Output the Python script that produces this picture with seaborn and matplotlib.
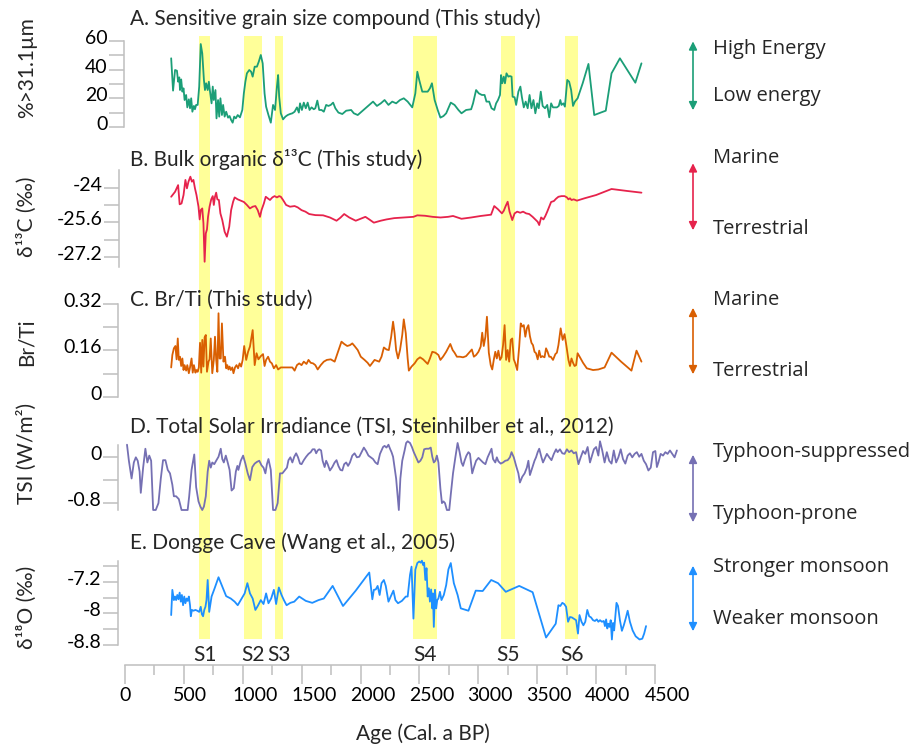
import numpy as np
import pandas as pd
import matplotlib
matplotlib.use("Agg")
import matplotlib.pyplot as plt
import seaborn as sns
from matplotlib.transforms import ScaledTranslation, blended_transform_factory
from matplotlib.patches import FancyArrowPatch

# ---------------- data ----------------
A_age = [392,408,425,441,451,461,467,477,487,497,
         506,519,529,542,552,562,572,585,594,604,
         617,630,643,656,670,679,689,702,712,722,
         735,745,754,768,777,790,800,810,823,833,
         846,859,875,888,901,914,927,941,957,976,
         996,1009,1022,1035,1055,1071,1084,1101,1120,1136,
         1153,1169,1185,1198,1218,1238,1257,1274,1290,1300,
         1309,1323,1342,1362,1381,1401,1421,1440,1460,1476,
         1486,1502,1518,1535,1551,1567,1584,1603,1616,1633,
         1649,1669,1688,1708,1727,1747,1767,1786,1812,1845,
         1878,1920,1943,1976,2025,2074,2106,2139,2172,2204,
         2237,2269,2302,2335,2367,2400,2439,2465,2482,2498,
         2524,2547,2570,2589,2606,2629,2655,2678,2704,2727,
         2766,2798,2831,2857,2896,2939,2955,2981,3004,3030,
         3053,3069,3092,3112,3135,3151,3167,3184,3193,3203,
         3216,3226,3239,3255,3268,3282,3291,3308,3321,3340,
         3357,3370,3386,3402,3419,3435,3451,3468,3484,3500,
         3513,3530,3546,3566,3585,3602,3618,3634,3650,3667,
         3683,3696,3706,3722,3735,3755,3771,3788,3804,3820,
         3843,3886,3935,3984,4082,4131,4202,4333,4385]
A_val = [47.8,25.4,39.7,39.2,31.6,34.6,25.8,33.2,24.7,27.0,
         18.9,22.4,13.8,19.4,13.2,20.1,10.8,14.8,12.5,15.5,
         15.5,28.2,57.7,51.2,32.8,25.8,30.5,25.8,31.6,24.7,
         16.6,28.2,18.9,25.8,6.2,18.9,7.4,20.1,8.5,15.5,
         7.4,10.8,6.7,7.8,5.1,3.2,7.4,6.2,8.5,6.9,
         12.0,23.5,31.6,37.4,39.7,38.5,35.1,42.0,42.0,45.5,
         50.1,44.3,23.5,14.3,8.5,3.2,15.5,12.0,28.2,36.2,
         21.2,9.7,5.5,7.4,8.5,9.2,9.7,10.8,13.8,10.2,
         16.6,12.0,17.1,13.2,17.1,12.0,13.8,12.5,13.2,18.5,
         12.0,12.0,10.8,15.5,14.8,15.5,17.1,13.2,10.2,9.2,
         11.5,12.0,9.7,8.5,12.0,15.5,17.8,14.8,16.6,18.9,
         15.5,17.8,16.6,18.9,20.1,17.8,13.8,23.5,38.5,32.8,
         24.7,24.7,24.7,27.0,30.5,18.9,12.0,6.7,7.8,9.7,
         17.1,15.5,12.0,9.7,12.0,12.5,16.6,25.8,23.5,22.4,
         22.4,17.8,17.8,13.2,12.0,16.6,18.9,22.4,36.2,30.5,
         35.1,30.5,37.4,35.1,35.5,35.1,21.2,20.8,15.5,24.7,
         28.2,20.8,13.8,17.8,13.2,22.4,13.2,18.9,9.7,16.6,
         13.2,24.7,14.8,13.2,15.5,6.9,16.6,13.8,13.8,13.8,
         14.8,18.9,15.5,16.6,14.3,32.8,31.6,25.8,14.8,17.8,
         20.1,30.5,43.9,8.5,11.5,37.4,47.8,30.9,44.3]

B_age = [392,425,451,464,480,497,513,526,539,555,
         568,581,594,607,624,634,643,656,666,676,
         686,696,705,718,732,745,754,764,774,784,
         797,810,826,846,865,885,901,918,931,957,
         983,1009,1035,1061,1084,1107,1127,1146,1159,1179,
         1195,1212,1231,1251,1270,1290,1309,1323,1342,1368,
         1401,1440,1466,1499,1532,1564,1616,1682,1740,1796,
         1829,1861,1904,1959,2008,2041,2074,2113,2171,2220,
         2286,2367,2449,2482,2547,2612,2678,2743,2785,2857,
         2939,3020,3108,3135,3167,3200,3216,3232,3249,3265,
         3288,3308,3330,3356,3380,3406,3432,3461,3484,3504,
         3517,3533,3553,3569,3585,3602,3618,3641,3660,3680,
         3706,3732,3752,3765,3778,3791,3810,3837,3902,4000,
         4131,4261,4385]
B_val = [-24.42,-24.19,-23.88,-24.77,-24.73,-24.34,-23.64,-24.03,-23.72,-23.49,
         -23.72,-23.64,-24.03,-24.34,-24.88,-25.47,-25.04,-24.96,-25.65,-27.43,
         -26.12,-25.93,-25.35,-24.88,-24.54,-24.39,-24.80,-24.42,-24.23,-24.54,
         -24.57,-25.19,-25.50,-26.04,-26.27,-25.81,-25.04,-24.65,-24.45,-24.54,
         -24.60,-24.66,-24.80,-24.96,-24.88,-24.85,-25.04,-25.35,-25.04,-24.73,
         -24.42,-24.49,-24.57,-24.45,-24.39,-24.45,-24.39,-24.42,-24.57,-24.80,
         -24.88,-24.85,-24.91,-25.04,-25.11,-25.22,-25.27,-25.28,-25.38,-25.53,
         -25.39,-25.22,-25.38,-25.53,-25.42,-25.35,-25.47,-25.62,-25.53,-25.47,
         -25.41,-25.38,-25.35,-25.28,-25.30,-25.35,-25.38,-25.35,-25.31,-25.44,
         -25.38,-25.31,-25.25,-24.85,-25.00,-25.19,-25.07,-24.85,-24.65,-25.11,
         -25.50,-25.19,-25.11,-25.16,-25.11,-25.19,-25.22,-25.35,-25.47,-25.58,
         -25.73,-25.38,-25.47,-25.31,-25.11,-24.88,-24.66,-24.62,-24.51,-24.42,
         -24.39,-24.39,-24.45,-24.54,-24.49,-24.57,-24.54,-24.60,-24.49,-24.34,
         -24.06,-24.15,-24.23]

C_age = [392,402,415,428,438,448,457,467,477,487,
         497,506,519,529,542,552,565,575,585,598,
         607,617,627,637,647,656,666,676,686,696,
         709,718,728,741,754,764,774,784,794,803,
         813,823,836,849,859,869,878,888,898,911,
         921,934,947,960,973,986,999,1012,1029,1045,
         1061,1084,1101,1117,1133,1153,1172,1185,1198,1215,
         1231,1247,1264,1283,1300,1323,1355,1388,1421,1440,
         1460,1479,1499,1518,1541,1558,1577,1597,1616,1636,
         1662,1688,1714,1747,1780,1812,1838,1861,1887,1910,
         1930,1949,1976,2002,2034,2060,2080,2100,2119,2139,
         2158,2178,2198,2220,2240,2260,2276,2289,2302,2318,
         2335,2354,2367,2384,2400,2410,2433,2459,2482,2505,
         2531,2550,2570,2589,2609,2635,2661,2678,2700,2727,
         2743,2762,2782,2798,2818,2844,2870,2896,2922,2945,
         2962,2981,3001,3020,3033,3046,3060,3073,3089,3105,
         3118,3131,3144,3157,3170,3184,3197,3210,3223,3236,
         3249,3262,3275,3288,3301,3314,3330,3347,3360,3373,
         3386,3399,3412,3425,3438,3451,3464,3477,3490,3504,
         3517,3530,3543,3562,3575,3588,3602,3615,3634,3654,
         3667,3680,3699,3716,3732,3748,3765,3778,3791,3804,
         3817,3830,3843,3863,3889,3921,3974,4019,4072,4131,
         4212,4300,4343,4385]
C_val = [0.101,0.144,0.167,0.175,0.129,0.201,0.127,0.138,0.106,0.132,
         0.092,0.109,0.090,0.109,0.081,0.101,0.132,0.083,0.109,0.083,
         0.092,0.086,0.101,0.186,0.083,0.196,0.104,0.205,0.213,0.086,
         0.121,0.129,0.201,0.081,0.127,0.207,0.129,0.086,0.288,0.132,
         0.132,0.253,0.121,0.138,0.098,0.109,0.094,0.104,0.092,0.101,
         0.081,0.101,0.109,0.098,0.115,0.104,0.127,0.175,0.127,0.155,
         0.173,0.230,0.109,0.150,0.129,0.140,0.147,0.106,0.127,0.138,
         0.121,0.115,0.098,0.109,0.094,0.101,0.101,0.101,0.101,0.090,
         0.109,0.115,0.109,0.121,0.113,0.127,0.117,0.115,0.109,0.094,
         0.109,0.121,0.127,0.129,0.121,0.159,0.190,0.182,0.175,0.178,
         0.184,0.175,0.161,0.138,0.127,0.117,0.106,0.117,0.127,0.124,
         0.121,0.138,0.170,0.163,0.161,0.207,0.259,0.219,0.161,0.132,
         0.161,0.213,0.267,0.219,0.132,0.090,0.104,0.115,0.129,0.136,
         0.129,0.121,0.113,0.132,0.155,0.152,0.144,0.127,0.138,0.155,
         0.167,0.182,0.161,0.152,0.138,0.138,0.136,0.140,0.152,0.163,
         0.138,0.144,0.155,0.173,0.221,0.175,0.207,0.276,0.152,0.109,
         0.094,0.127,0.155,0.132,0.159,0.127,0.136,0.178,0.247,0.127,
         0.161,0.121,0.196,0.201,0.129,0.115,0.092,0.173,0.253,0.242,
         0.247,0.207,0.236,0.247,0.209,0.186,0.178,0.155,0.150,0.129,
         0.159,0.136,0.140,0.136,0.167,0.155,0.138,0.138,0.127,0.147,
         0.152,0.178,0.236,0.196,0.216,0.175,0.127,0.106,0.132,0.117,
         0.106,0.109,0.150,0.136,0.117,0.098,0.092,0.094,0.101,0.152,
         0.121,0.090,0.159,0.121]

D_age = [17,33,56,75,92,108,124,134,154,173,
         190,206,222,239,261,284,304,323,343,363,
         382,402,415,434,457,480,506,532,545,565,
         588,604,624,640,656,670,686,702,715,728,
         741,758,774,794,813,826,839,856,872,888,
         905,924,941,954,963,983,1003,1022,1042,1061,
         1081,1101,1120,1140,1159,1176,1192,1205,1218,1238,
         1257,1277,1296,1316,1336,1355,1375,1388,1404,1421,
         1437,1453,1469,1486,1499,1518,1538,1558,1577,1593,
         1610,1623,1636,1649,1665,1678,1695,1708,1721,1740,
         1760,1780,1796,1812,1829,1845,1861,1878,1894,1910,
         1930,1949,1969,1989,2008,2028,2047,2067,2087,2106,
         2126,2145,2165,2178,2191,2204,2220,2237,2250,2263,
         2276,2289,2302,2315,2325,2338,2354,2374,2387,2400,
         2420,2436,2452,2472,2491,2508,2524,2540,2557,2580,
         2596,2609,2622,2635,2648,2661,2678,2691,2704,2717,
         2733,2753,2766,2785,2805,2824,2841,2857,2870,2883,
         2899,2916,2929,2948,2962,2981,3001,3020,3040,3060,
         3079,3099,3112,3125,3144,3157,3170,3190,3210,3229,
         3249,3268,3282,3301,3321,3340,3353,3373,3393,3412,
         3425,3438,3458,3477,3490,3504,3517,3536,3549,3562,
         3582,3602,3621,3641,3660,3673,3693,3713,3732,3752,
         3771,3791,3810,3830,3850,3869,3889,3908,3928,3948,
         3961,3981,4000,4019,4033,4052,4072,4091,4111,4131,
         4150,4170,4189,4209,4228,4248,4268,4287,4307,4327,
         4346,4366,4385,4405,4424,4444,4464,4483,4503,4516,
         4529,4548,4568,4588,4607,4627,4646,4666,4686]
D_val = [0.22,-0.06,-0.37,-0.09,0.00,-0.06,-0.25,-0.62,-0.18,0.15,
         -0.09,0.03,-0.06,-0.92,-0.92,-0.80,-0.37,-0.05,-0.05,-0.22,
         -0.28,-0.48,-0.68,-0.68,-0.73,-0.92,-0.92,-0.92,-0.68,-0.22,
         0.05,-0.52,-0.77,-0.86,-0.92,-0.86,-0.68,-0.25,-0.06,-0.18,
         -0.09,-0.12,-0.06,0.01,0.15,-0.03,-0.09,0.03,-0.09,-0.22,
         -0.58,-0.54,-0.25,-0.15,-0.22,-0.06,0.03,-0.11,-0.28,-0.40,
         -0.17,-0.11,-0.08,-0.06,-0.14,-0.18,-0.28,-0.12,-0.03,-0.22,
         -0.92,-0.92,-0.80,-0.28,-0.28,-0.23,-0.18,-0.05,0.00,-0.09,
         0.01,0.07,0.00,-0.11,-0.12,-0.05,0.01,0.06,0.09,0.14,
         0.14,0.07,0.12,0.14,0.12,-0.06,-0.17,-0.06,-0.12,-0.23,
         -0.17,-0.09,-0.05,-0.15,-0.22,-0.23,-0.12,-0.09,-0.15,-0.09,
         0.03,0.07,0.00,0.01,0.09,0.17,0.11,0.03,0.00,-0.03,
         -0.09,-0.12,0.06,0.12,0.18,0.20,0.17,0.22,0.15,0.09,
         0.01,-0.18,-0.37,-0.68,-0.92,-0.37,-0.06,0.12,0.25,0.28,
         0.25,0.18,0.09,0.00,-0.09,-0.06,0.00,0.14,0.15,0.15,
         0.17,0.01,-0.09,-0.06,0.03,-0.09,-0.55,-0.80,-0.77,-0.80,
         -0.92,-0.92,-0.65,-0.28,0.00,0.25,0.09,-0.09,-0.15,-0.06,
         0.03,0.09,0.06,-0.28,-0.18,-0.06,-0.01,-0.05,-0.09,-0.12,
         0.00,0.09,0.15,-0.03,-0.09,0.00,-0.07,-0.11,-0.09,-0.06,
         -0.05,0.00,0.09,0.00,-0.15,-0.28,-0.44,-0.34,-0.28,-0.18,
         -0.06,-0.31,-0.18,-0.06,0.00,0.09,0.15,0.00,-0.09,-0.03,
         0.06,0.00,-0.05,0.06,0.14,0.09,0.14,0.07,0.06,0.14,
         0.09,0.12,0.07,0.09,-0.12,0.00,0.11,0.06,0.18,-0.09,
         0.00,0.14,0.18,0.03,0.28,0.12,-0.09,0.09,-0.06,-0.11,
         0.12,-0.09,0.00,0.14,-0.03,-0.11,0.03,0.07,0.00,0.06,
         0.09,0.01,0.06,-0.06,-0.12,-0.23,-0.18,0.09,0.11,-0.17,
         -0.09,0.06,0.03,0.09,0.06,0.12,0.06,0.00,0.12]

E_age = [392,402,415,425,434,444,454,464,474,483,
         493,503,513,523,532,542,552,559,568,581,
         598,614,630,643,653,663,673,683,692,702,
         715,735,761,794,826,859,898,931,957,990,
         1016,1039,1061,1084,1107,1127,1153,1176,1198,1218,
         1241,1264,1283,1306,1329,1349,1372,1404,1437,1479,
         1535,1590,1643,1688,1763,1851,1959,2074,2100,2113,
         2129,2145,2162,2178,2198,2214,2237,2256,2279,2296,
         2318,2351,2384,2400,2420,2433,2449,2465,2482,2498,
         2511,2521,2531,2540,2550,2560,2570,2580,2589,2599,
         2609,2615,2622,2632,2642,2651,2661,2674,2687,2707,
         2727,2746,2766,2792,2824,2851,2916,2978,3037,3109,
         3167,3233,3347,3461,3575,3657,3680,3696,3713,3729,
         3745,3762,3778,3794,3810,3830,3846,3859,3876,3892,
         3908,3925,3941,3957,3974,3990,4006,4019,4033,4049,
         4065,4075,4085,4095,4104,4114,4124,4134,4144,4153,
         4163,4173,4186,4202,4219,4235,4251,4268,4287,4310,
         4336,4369,4392,4408,4424]
E_val = [-8.04,-7.40,-7.66,-7.57,-7.66,-7.53,-7.64,-7.47,-7.70,-7.53,
         -7.79,-7.57,-7.74,-7.62,-7.68,-7.57,-7.79,-8.07,-7.91,-7.93,
         -7.91,-7.93,-7.96,-7.83,-8.02,-8.07,-7.91,-7.83,-7.66,-7.15,
         -7.96,-7.57,-7.36,-7.08,-7.32,-7.56,-7.62,-7.70,-7.79,-7.62,
         -7.49,-7.23,-7.49,-7.62,-7.91,-7.81,-7.66,-7.76,-7.49,-7.74,
         -7.62,-7.40,-7.76,-7.34,-7.53,-7.66,-7.79,-7.73,-7.70,-7.57,
         -7.68,-7.73,-7.66,-7.62,-7.30,-7.81,-7.42,-6.96,-7.64,-7.40,
         -7.39,-7.30,-7.53,-7.23,-7.15,-7.30,-7.70,-7.57,-7.42,-7.66,
         -7.74,-7.68,-7.57,-7.57,-7.02,-6.81,-8.13,-6.89,-6.72,-6.68,
         -6.71,-6.66,-6.77,-6.71,-7.15,-6.85,-7.57,-7.36,-7.70,-7.39,
         -7.87,-7.49,-8.34,-7.40,-7.87,-7.66,-7.62,-7.45,-7.66,-7.53,
         -7.28,-6.88,-6.72,-7.23,-7.53,-7.87,-7.93,-7.42,-7.43,-7.15,
         -7.23,-7.45,-7.30,-7.46,-8.61,-8.26,-7.79,-7.81,-7.73,-7.76,
         -7.83,-8.21,-8.09,-8.10,-8.13,-8.17,-8.51,-8.04,-8.21,-8.30,
         -8.21,-7.91,-8.07,-8.10,-8.17,-8.19,-8.15,-8.21,-8.17,-8.21,
         -8.19,-8.32,-8.15,-8.38,-8.26,-8.34,-8.17,-8.66,-8.24,-8.43,
         -8.09,-7.73,-7.81,-8.17,-8.44,-8.30,-8.13,-7.93,-8.21,-8.43,
         -8.58,-8.66,-8.64,-8.51,-8.32]

band_start = [630, 1008, 1273, 2449, 3194, 3739]
band_end = [722, 1166, 1339, 2645, 3308, 3846]
band_labels = ["S1", "S2", "S3", "S4", "S5", "S6"]

x_ticks = [0, 500, 1000, 1500, 2000, 2500, 3000, 3500, 4000, 4500]
x_ticklabels = ["0", "500", "1000", "1500", "2000", "2500", "3000", "3500", "4000", "4500"]

titles = ["A. Sensitive grain size compound (This study)",
          "B. Bulk organic \u03b4\u00b9\u00b3C (This study)",
          "C. Br/Ti (This study)",
          "D. Total Solar Irradiance (TSI, Steinhilber et al., 2012)",
          "E. Dongge Cave (Wang et al., 2005)"]
ylabels = ["%>31.1\u00b5m", "\u03b4\u00b9\u00b3C (\u2030)", "Br/Ti", "TSI (W/m\u00b2)", "\u03b4\u00b9\u2078O (\u2030)"]
legend_top = ["High Energy", "Marine", "Marine", "Typhoon-suppressed", "Stronger monsoon"]
legend_bottom = ["Low energy", "Terrestrial", "Terrestrial", "Typhoon-prone", "Weaker monsoon"]
colors = ["#1b9e77", "#e6234c", "#d95f02", "#7570b3", "#1e8fff"]

yticks_major = [[0, 20, 40, 60], [-27.2, -25.6, -24], [0, 0.16, 0.32], [-0.8, 0], [-8.8, -8, -7.2]]
yticklabels = [["0", "20", "40", "60"], ["-27.2", "-25.6", "-24"], ["0", "0.16", "0.32"], ["-0.8", "0"], ["-8.8", "-8", "-7.2"]]
yticks_minor = [[10, 30, 50], [-26.4, -24.8], [0.08, 0.24], [-0.4], [-8.4, -7.6, -6.8]]
ylims = [(0, 60), (-27.66, -23.18), (0, 0.32), (-0.92, 0.215), (-8.8, -6.66)]

series = [(A_age, A_val), (B_age, B_val), (C_age, C_val), (D_age, D_val), (E_age, E_val)]

# ---------------- layout (pixels) ----------------
W, H = 919, 744
sns.set_theme(style="white")
plt.rcParams["font.family"] = ["Lato", "DejaVu Sans"]
plt.rcParams["axes.unicode_minus"] = False

fig = plt.figure(figsize=(W / 100, H / 100), dpi=100)

def fx(x):
    return x / W

def fy(y):
    return 1 - y / H

X0 = 125
PX_PER_YR = 530 / 4500
XMAX = 4720
ax_left = fx(X0)
ax_width = XMAX * PX_PER_YR / W
GRAY = "#bfbfbf"

# panel vertical extents: (top px, bottom px)
panel_px = [(40.7, 127.3), (170, 266.7), (304, 396.7), (445, 510), (560.7, 645)]
spine_out = [1, 6, 7, 7, 7]
title_y = [19, 160, 300, 427, 543]
ylabel_y = [68, 217, 342, 453, 607]
leg_top_y = [49, 158, 300, 452, 567]
leg_bot_y = [96, 229, 371, 514, 619]
arrow_y = [(38.6, 113), (160.5, 233), (305, 377), (452, 525), (563, 634)]

# background band axes, also carrying the x axis
bg = fig.add_axes([ax_left, fy(639), ax_width, (639 - 36) / H], zorder=0)
bg.set_xlim(0, XMAX)
bg.set_ylim(0, 1)
bg.patch.set_alpha(0)
for s0, s1 in zip(band_start, band_end):
    bg.axvspan(s0, s1, color="#ffff99", lw=0)
for sp in ["top", "right", "left"]:
    bg.spines[sp].set_visible(False)
bg.spines["bottom"].set_position(("outward", 26 * 0.72))
bg.spines["bottom"].set_bounds(0, 4500)
bg.spines["bottom"].set_color(GRAY)
bg.spines["bottom"].set_linewidth(1.1)
bg.set_yticks([])
bg.set_xticks(x_ticks)
bg.set_xticklabels(x_ticklabels)
bg.set_xticks(np.arange(250, 4500, 500), minor=True)
bg.tick_params(axis="x", which="major", bottom=True, length=19 * 0.72, width=1.1,
               color=GRAY, labelsize=14, pad=2, labelcolor="black")
bg.tick_params(axis="x", which="minor", bottom=True, length=10 * 0.72, width=1.1, color=GRAY)
label_shift = [0, 6, 12, 12, 12, 12, 12, 12, 11, 12]
for lab, sh in zip(bg.get_xticklabels(), label_shift):
    lab.set_transform(lab.get_transform() + ScaledTranslation(sh / 100, 0, fig.dpi_scale_trans))
bg.set_xlabel("")
fig.text(fx(423), fy(734), "Age (Cal. a BP)", fontsize=15, ha="center", va="center")

btrans = blended_transform_factory(bg.transData, fig.transFigure)
for s0, s1, lab in zip(band_start, band_end, band_labels):
    bg.text((s0 + s1) / 2, fy(655), lab, transform=btrans, ha="center", va="center", fontsize=15)

# data panels
for i, ((ages, vals), (ptop, pbot)) in enumerate(zip(series, panel_px)):
    ax = fig.add_axes([ax_left, fy(pbot), ax_width, (pbot - ptop) / H], zorder=1)
    ax.patch.set_alpha(0)
    df = pd.DataFrame({"age": ages, "val": vals})
    sns.lineplot(data=df, x="age", y="val", ax=ax, color=colors[i], lw=1.3,
                 estimator=None, sort=False)
    for ln in ax.lines:
        ln.set_clip_on(False)
    ax.set_xlim(0, XMAX)
    ax.set_ylim(*ylims[i])
    ax.set_xlabel("")
    ax.set_ylabel("")
    for sp in ["top", "right", "bottom"]:
        ax.spines[sp].set_visible(False)
    ax.spines["left"].set_position(("outward", spine_out[i] * 0.72))
    ax.spines["left"].set_color(GRAY)
    ax.spines["left"].set_linewidth(1.1)
    ax.set_xticks([])
    ax.set_yticks(yticks_major[i])
    ax.set_yticklabels(yticklabels[i])
    ax.set_yticks(yticks_minor[i], minor=True)
    ax.tick_params(axis="y", which="both", left=True, length=15 * 0.72, width=1.1,
                   color=GRAY, labelsize=14, pad=1, labelcolor="black")
    for lab in ax.get_yticklabels():
        lab.set_transform(lab.get_transform() + ScaledTranslation(0, 4 / 100, fig.dpi_scale_trans))
    fig.text(fx(130), fy(title_y[i]), titles[i], fontsize=15, ha="left", va="center", zorder=5)
    fig.text(fx(27), fy(ylabel_y[i]), ylabels[i], fontsize=15, rotation=90,
             ha="center", va="center")
    # right-hand legend arrows
    fig.text(fx(713), fy(leg_top_y[i]), legend_top[i], fontsize=14.5, ha="left", va="center",
             family=["Open Sans", "DejaVu Sans"])
    fig.text(fx(713), fy(leg_bot_y[i]), legend_bottom[i], fontsize=14.5, ha="left", va="center",
             family=["Open Sans", "DejaVu Sans"])
    a0, a1 = arrow_y[i]
    arr = FancyArrowPatch((fx(693), fy(a0)), (fx(693), fy(a1)), transform=fig.transFigure,
                          arrowstyle="<|-|>", mutation_scale=12, color=colors[i], lw=1.2)
    fig.add_artist(arr)

fig.savefig("out.png", dpi=100)
